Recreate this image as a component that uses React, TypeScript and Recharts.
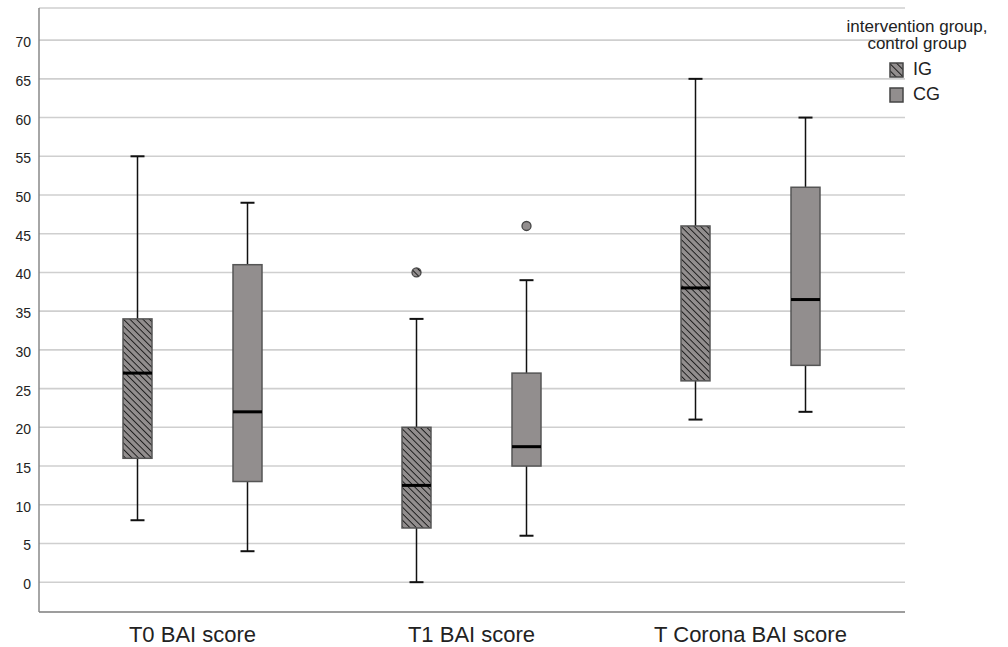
import React from 'react';
import { ComposedChart, Bar, XAxis, YAxis, CartesianGrid } from 'recharts';

const categories = ['T0 BAI score', 'T1 BAI score', 'T Corona BAI score'];

const igMin = [8, 0, 21];
const igQ1 = [16, 7, 26];
const igMedian = [27, 12.5, 38];
const igQ3 = [34, 20, 46];
const igMax = [55, 34, 65];
const igOutliers = [[], [40], []];

const cgMin = [4, 6, 22];
const cgQ1 = [13, 15, 28];
const cgMedian = [22, 17.5, 36.5];
const cgQ3 = [41, 27, 51];
const cgMax = [49, 39, 60];
const cgOutliers = [[], [46], []];

const yTicks = [0, 5, 10, 15, 20, 25, 30, 35, 40, 45, 50, 55, 60, 65, 70];
const legendTitle = ['intervention group,', 'control group'];
const groupLabels = ['IG', 'CG'];

const data = categories.map((name, i) => ({
  name,
  ig: [igMin[i], igMax[i]],
  cg: [cgMin[i], cgMax[i]],
  igStats: { min: igMin[i], q1: igQ1[i], median: igMedian[i], q3: igQ3[i], max: igMax[i], outliers: igOutliers[i] },
  cgStats: { min: cgMin[i], q1: cgQ1[i], median: cgMedian[i], q3: cgQ3[i], max: cgMax[i], outliers: cgOutliers[i] },
}));

const FONT = '"Liberation Sans", Arial, sans-serif';
const BOX_GRAY = '#928e8e';
const BOX_STROKE = '#555';

const makeBoxShape = (key: 'igStats' | 'cgStats', fill: string) => (props: any) => {
  const { x, y, width, height, payload } = props;
  const s = payload[key];
  const span = s.max - s.min;
  const py = (v: number) => y + (height * (s.max - v)) / span;
  const cx = x + width / 2;
  const capHalf = 7;
  return (
    <g>
      <line x1={cx} x2={cx} y1={py(s.max)} y2={py(s.min)} stroke="#111" strokeWidth={1.5} />
      <line x1={cx - capHalf} x2={cx + capHalf} y1={py(s.max)} y2={py(s.max)} stroke="#111" strokeWidth={2} />
      <line x1={cx - capHalf} x2={cx + capHalf} y1={py(s.min)} y2={py(s.min)} stroke="#111" strokeWidth={2} />
      <rect
        x={x}
        y={py(s.q3)}
        width={width}
        height={py(s.q1) - py(s.q3)}
        fill={fill}
        stroke={BOX_STROKE}
        strokeWidth={1.5}
      />
      <line x1={x} x2={x + width} y1={py(s.median)} y2={py(s.median)} stroke="#000" strokeWidth={3} />
      {s.outliers.map((o: number, j: number) => (
        <circle key={j} cx={cx} cy={py(o)} r={4.5} fill={fill} stroke="#444" strokeWidth={1.3} />
      ))}
    </g>
  );
};

const Swatch = ({ fill }: { fill: string }) => (
  <svg width={15} height={16} style={{ display: 'block' }}>
    <defs>
      <pattern id="hatchLegend" patternUnits="userSpaceOnUse" width="5" height="5" patternTransform="rotate(45)">
        <rect width="5" height="5" fill={BOX_GRAY} />
        <line x1="0" y1="0" x2="5" y2="0" stroke="#1e1e1e" strokeWidth="2" />
      </pattern>
    </defs>
    <rect x={1} y={1} width={13} height={14} fill={fill} stroke="#444" strokeWidth={1.5} />
  </svg>
);

export default function App() {
  return (
    <div style={{ position: 'absolute', left: 0, top: 0, width: 1008, height: 647, background: '#fff' }}>
      <ComposedChart
        width={1008}
        height={647}
        data={data}
        margin={{ top: 8, right: 103, bottom: 0, left: 0 }}
        barSize={29}
        barGap={81}
      >
        <defs>
          <pattern id="hatchIG" patternUnits="userSpaceOnUse" width="4.6" height="4.6" patternTransform="rotate(45)">
            <rect width="4.6" height="4.6" fill={BOX_GRAY} />
            <line x1="0" y1="0" x2="4.6" y2="0" stroke="#1a1a1a" strokeWidth="1.9" />
          </pattern>
        </defs>
        <CartesianGrid vertical={false} stroke="#cfcfcf" strokeWidth={1.6} />
        <XAxis
          dataKey="name"
          type="category"
          height={35}
          padding={{ left: 14, right: 15 }}
          axisLine={{ stroke: '#888', strokeWidth: 1.5 }}
          tickLine={false}
          tickSize={0}
          tickMargin={14}
          tick={{ fontFamily: FONT, fontSize: 22, fill: '#222' }}
        />
        <YAxis
          type="number"
          domain={[-3.85, 74.15]}
          ticks={yTicks}
          width={39}
          allowDataOverflow
          axisLine={{ stroke: '#888', strokeWidth: 1.5 }}
          tickLine={false}
          tickSize={0}
          tickMargin={8}
          tick={{ fontFamily: FONT, fontSize: 14, fill: '#222', dy: 2 }}
        />
        <Bar dataKey="ig" isAnimationActive={false} shape={makeBoxShape('igStats', 'url(#hatchIG)')} />
        <Bar dataKey="cg" isAnimationActive={false} shape={makeBoxShape('cgStats', BOX_GRAY)} />
      </ComposedChart>
      <div
        style={{
          position: 'absolute',
          left: 830,
          top: 18,
          width: 174,
          textAlign: 'center',
          fontFamily: FONT,
          fontSize: 17,
          lineHeight: '17px',
          color: '#222',
        }}
      >
        {legendTitle.map((t) => (
          <div key={t}>{t}</div>
        ))}
      </div>
      {groupLabels.map((g, i) => (
        <div
          key={g}
          style={{
            position: 'absolute',
            left: 889,
            top: 59 + i * 25,
            display: 'flex',
            alignItems: 'center',
            fontFamily: FONT,
            fontSize: 18,
            color: '#222',
          }}
        >
          <Swatch fill={i === 0 ? 'url(#hatchLegend)' : BOX_GRAY} />
          <span style={{ marginLeft: 9 }}>{g}</span>
        </div>
      ))}
    </div>
  );
}
